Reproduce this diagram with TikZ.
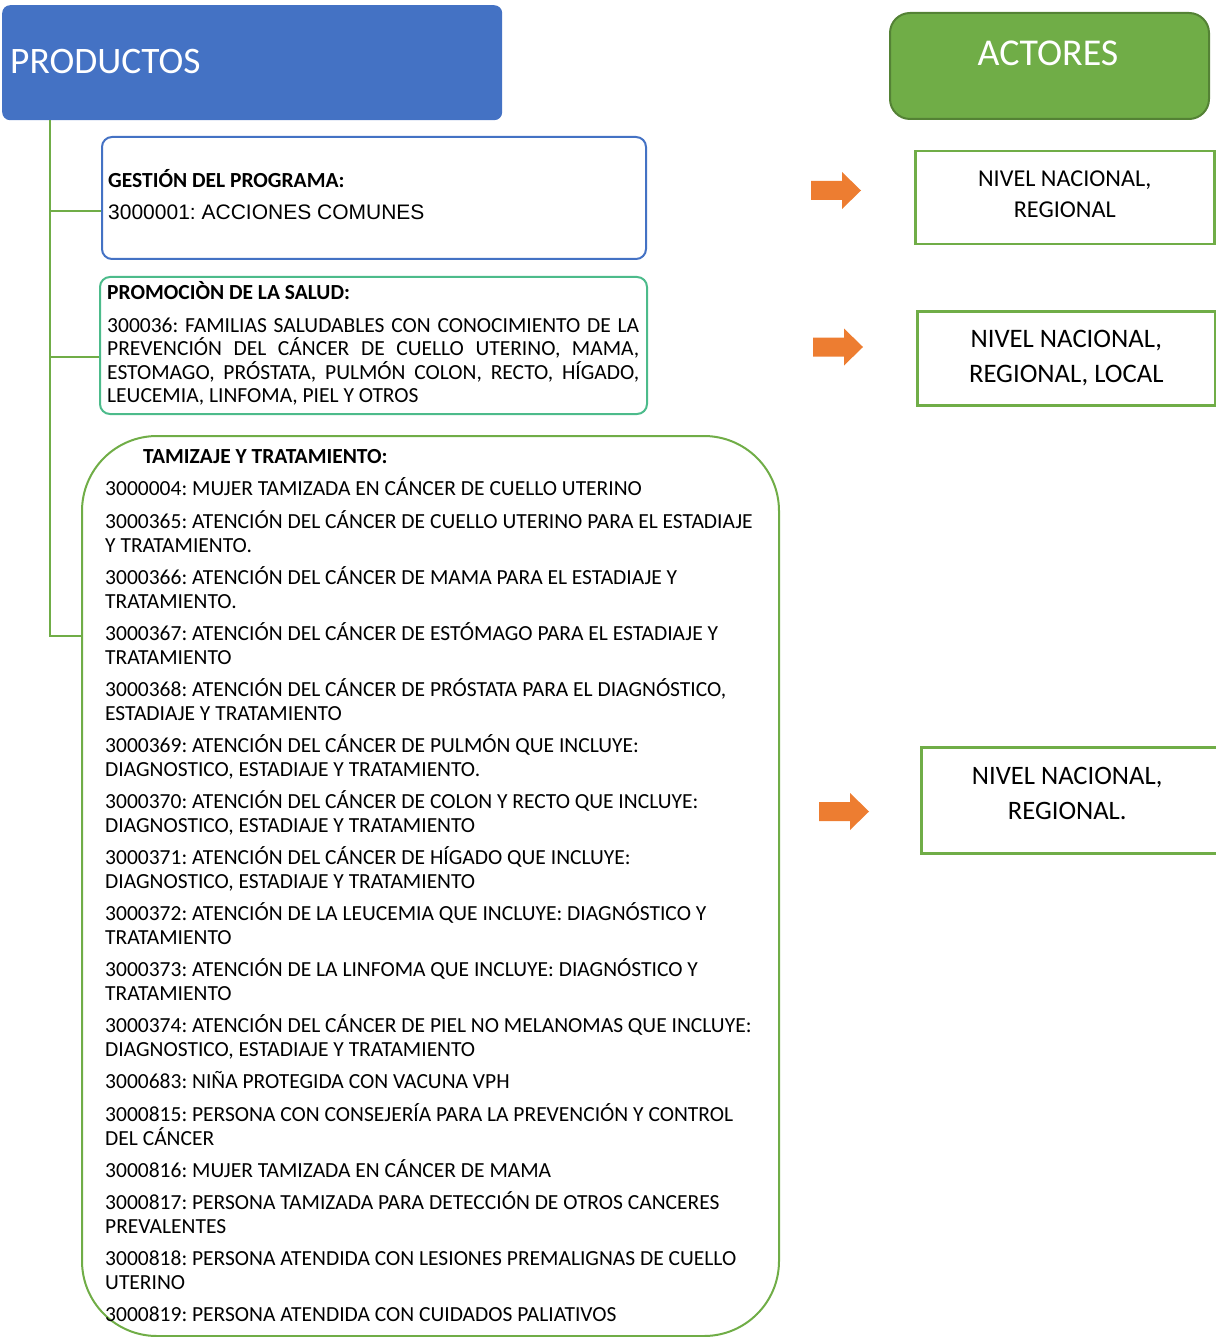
\documentclass[tikz,border=0pt]{standalone}
\usepackage{fontspec}
\setmainfont{Carlito}
\newfontfamily\arialf{Liberation Sans}
\definecolor{hdblue}{HTML}{4472C4}
\definecolor{hdgreen}{HTML}{70AD47}
\definecolor{hdgreendark}{HTML}{548235}
\definecolor{teal2}{RGB}{76,187,139}
\definecolor{arrorange}{HTML}{ED7D31}
\newcommand\orarrow[2]{%
  \fill[arrorange] (#1,#2-9.5) -- ++(31,0) -- ++(0,-9) -- ++(19,18.5) -- ++(-19,18.5) -- ++(0,-9) -- ++(-31,0) -- cycle;}
\newcommand\twoln[2]{\vtop{\hbox{#1}\hbox{#2}}}
\frenchspacing
\begin{document}
\begin{tikzpicture}[x=1pt,y=-1pt,
  itemtxt/.style={anchor=base west, inner sep=0pt,
     font=\frenchspacing\fontsize{21.5}{23.5}\selectfont},
  ttl/.style={anchor=base west, inner sep=0pt, font=\frenchspacing\fontsize{21.5}{24}\selectfont\bfseries},
  actbox/.style={draw=hdgreen, line width=2.5pt, anchor=north west, inner sep=0pt},
  acttxt/.style={align=center, inner sep=0pt},
  tree/.style={draw=hdgreen, line width=2.5pt}]
\useasboundingbox (0,0) rectangle (1215,1337);

% headers
\node[fill=hdblue, rounded corners=8pt, anchor=north west, minimum width=500pt, minimum height=115pt, inner sep=0pt] (prod) at (2,5) {};
\node[anchor=base west, inner sep=0pt, text=white, font=\fontsize{37.4}{40}\selectfont] at (10,74) {PRODUCTOS};
\node[fill=hdgreen, draw=hdgreendark, line width=2pt, rounded corners=20pt, anchor=north west, minimum width=319pt, minimum height=106pt, inner sep=0pt] (act) at (889,12) {};
\node[text=white, font=\fontsize{37.9}{40}\selectfont, inner sep=0pt] at (1048,53) {ACTORES};

% box 1
\node[draw=hdblue, line width=2pt, rounded corners=10pt, anchor=north west, minimum width=544pt, minimum height=122pt, inner sep=0pt] (b1) at (101,136) {};
\node[ttl] at (108,188) {GESTIÓN DEL PROGRAMA:};
\node[anchor=base west, inner sep=0pt, font=\frenchspacing\arialf\fontsize{21}{24}\selectfont] at (108,220) {3000001: ACCIONES COMUNES};

% box 2
\node[draw=teal2, line width=2pt, rounded corners=10pt, anchor=north west, minimum width=547pt, minimum height=137pt, inner sep=0pt] (b2) at (99,276) {};
\node[ttl] at (107,300) {PROMOCIÒN DE LA SALUD:};
\node[itemtxt, font=\frenchspacing\fontsize{21.5}{23.3}\selectfont] at (107,332.5) {\vtop{\hbox to 532pt{300036: FAMILIAS SALUDABLES CON CONOCIMIENTO DE LA}
\hbox to 532pt{PREVENCIÓN DEL CÁNCER DE CUELLO UTERINO, MAMA,}
\hbox to 532pt{ESTOMAGO, PRÓSTATA, PULMÓN COLON, RECTO, HÍGADO,}
\hbox{LEUCEMIA, LINFOMA, PIEL Y OTROS}}};

% box 3
\node[draw=hdgreen, line width=2pt, rounded corners=75pt, anchor=north west, minimum width=697pt, minimum height=900pt, inner sep=0pt] (b3) at (81,435) {};
\node[ttl] at (143,463.5) {TAMIZAJE Y TRATAMIENTO:};
\node[itemtxt] at (105,495.5) {3000004: MUJER TAMIZADA EN CÁNCER DE CUELLO UTERINO};
\node[itemtxt] at (105,528.5) {\twoln{3000365: ATENCIÓN DEL CÁNCER DE CUELLO UTERINO PARA EL ESTADIAJE}{Y TRATAMIENTO.}};
\node[itemtxt] at (105,584.5) {\twoln{3000366: ATENCIÓN DEL CÁNCER DE MAMA PARA EL ESTADIAJE Y}{TRATAMIENTO.}};
\node[itemtxt] at (105,640.5) {\twoln{3000367: ATENCIÓN DEL CÁNCER DE ESTÓMAGO PARA EL ESTADIAJE Y}{TRATAMIENTO}};
\node[itemtxt] at (105,696.5) {\twoln{3000368: ATENCIÓN DEL CÁNCER DE PRÓSTATA PARA EL DIAGNÓSTICO,}{ESTADIAJE Y TRATAMIENTO}};
\node[itemtxt] at (105,752.5) {\twoln{3000369: ATENCIÓN DEL CÁNCER DE PULMÓN QUE INCLUYE:}{DIAGNOSTICO, ESTADIAJE Y TRATAMIENTO.}};
\node[itemtxt] at (105,808.5) {\twoln{3000370: ATENCIÓN DEL CÁNCER DE COLON Y RECTO QUE INCLUYE:}{DIAGNOSTICO, ESTADIAJE Y TRATAMIENTO}};
\node[itemtxt] at (105,864.5) {\twoln{3000371: ATENCIÓN DEL CÁNCER DE HÍGADO QUE INCLUYE:}{DIAGNOSTICO, ESTADIAJE Y TRATAMIENTO}};
\node[itemtxt] at (105,920.5) {\twoln{3000372: ATENCIÓN DE LA LEUCEMIA QUE INCLUYE: DIAGNÓSTICO Y}{TRATAMIENTO}};
\node[itemtxt] at (105,976.5) {\twoln{3000373: ATENCIÓN DE LA LINFOMA QUE INCLUYE: DIAGNÓSTICO Y}{TRATAMIENTO}};
\node[itemtxt] at (105,1032.5) {\twoln{3000374: ATENCIÓN DEL CÁNCER DE PIEL NO MELANOMAS QUE INCLUYE:}{DIAGNOSTICO, ESTADIAJE Y TRATAMIENTO}};
\node[itemtxt] at (105,1088.5) {3000683: NIÑA PROTEGIDA CON VACUNA VPH};
\node[itemtxt] at (105,1121.5) {\twoln{3000815: PERSONA CON CONSEJERÍA PARA LA PREVENCIÓN Y CONTROL}{DEL CÁNCER}};
\node[itemtxt] at (105,1177.5) {3000816: MUJER TAMIZADA EN CÁNCER DE MAMA};
\node[itemtxt] at (105,1209.5) {\twoln{3000817: PERSONA TAMIZADA PARA DETECCIÓN DE OTROS CANCERES}{PREVALENTES}};
\node[itemtxt] at (105,1265.5) {\twoln{3000818: PERSONA ATENDIDA CON LESIONES PREMALIGNAS DE CUELLO}{UTERINO}};
\node[itemtxt] at (105,1321.5) {3000819: PERSONA ATENDIDA CON CUIDADOS PALIATIVOS};

% tree connectors
\coordinate (trunk) at (50,120);
\draw[tree] (trunk) -- (50,636) -- (b3.west |- 0,636);
\draw[tree] (50,211) -- (b1.west |- 0,211);
\draw[tree] (50,357) -- (b2.west |- 0,357);

% actor boxes
\node[actbox, minimum width=299pt, minimum height=93pt] (a1) at (914,150) {};
\node[acttxt, font=\fontsize{24.2}{31}\selectfont] at ([yshift=4pt]a1.center) {NIVEL NACIONAL,\\REGIONAL};
\node[actbox, minimum width=298pt, minimum height=94pt] (a2) at (916,310) {};
\node[acttxt, font=\fontsize{26.7}{35}\selectfont] at (a2.center) {NIVEL NACIONAL,\\REGIONAL, LOCAL};
\node[actbox, minimum width=300pt, minimum height=106pt] (a3) at (920,746) {};
\node[acttxt, font=\fontsize{26.6}{35}\selectfont] at ([xshift=-4pt,yshift=7pt]a3.center) {NIVEL NACIONAL,\\REGIONAL.};

% arrows
\orarrow{811}{190.5}
\orarrow{813}{347}
\orarrow{819}{811.5}
\end{tikzpicture}
\end{document}
